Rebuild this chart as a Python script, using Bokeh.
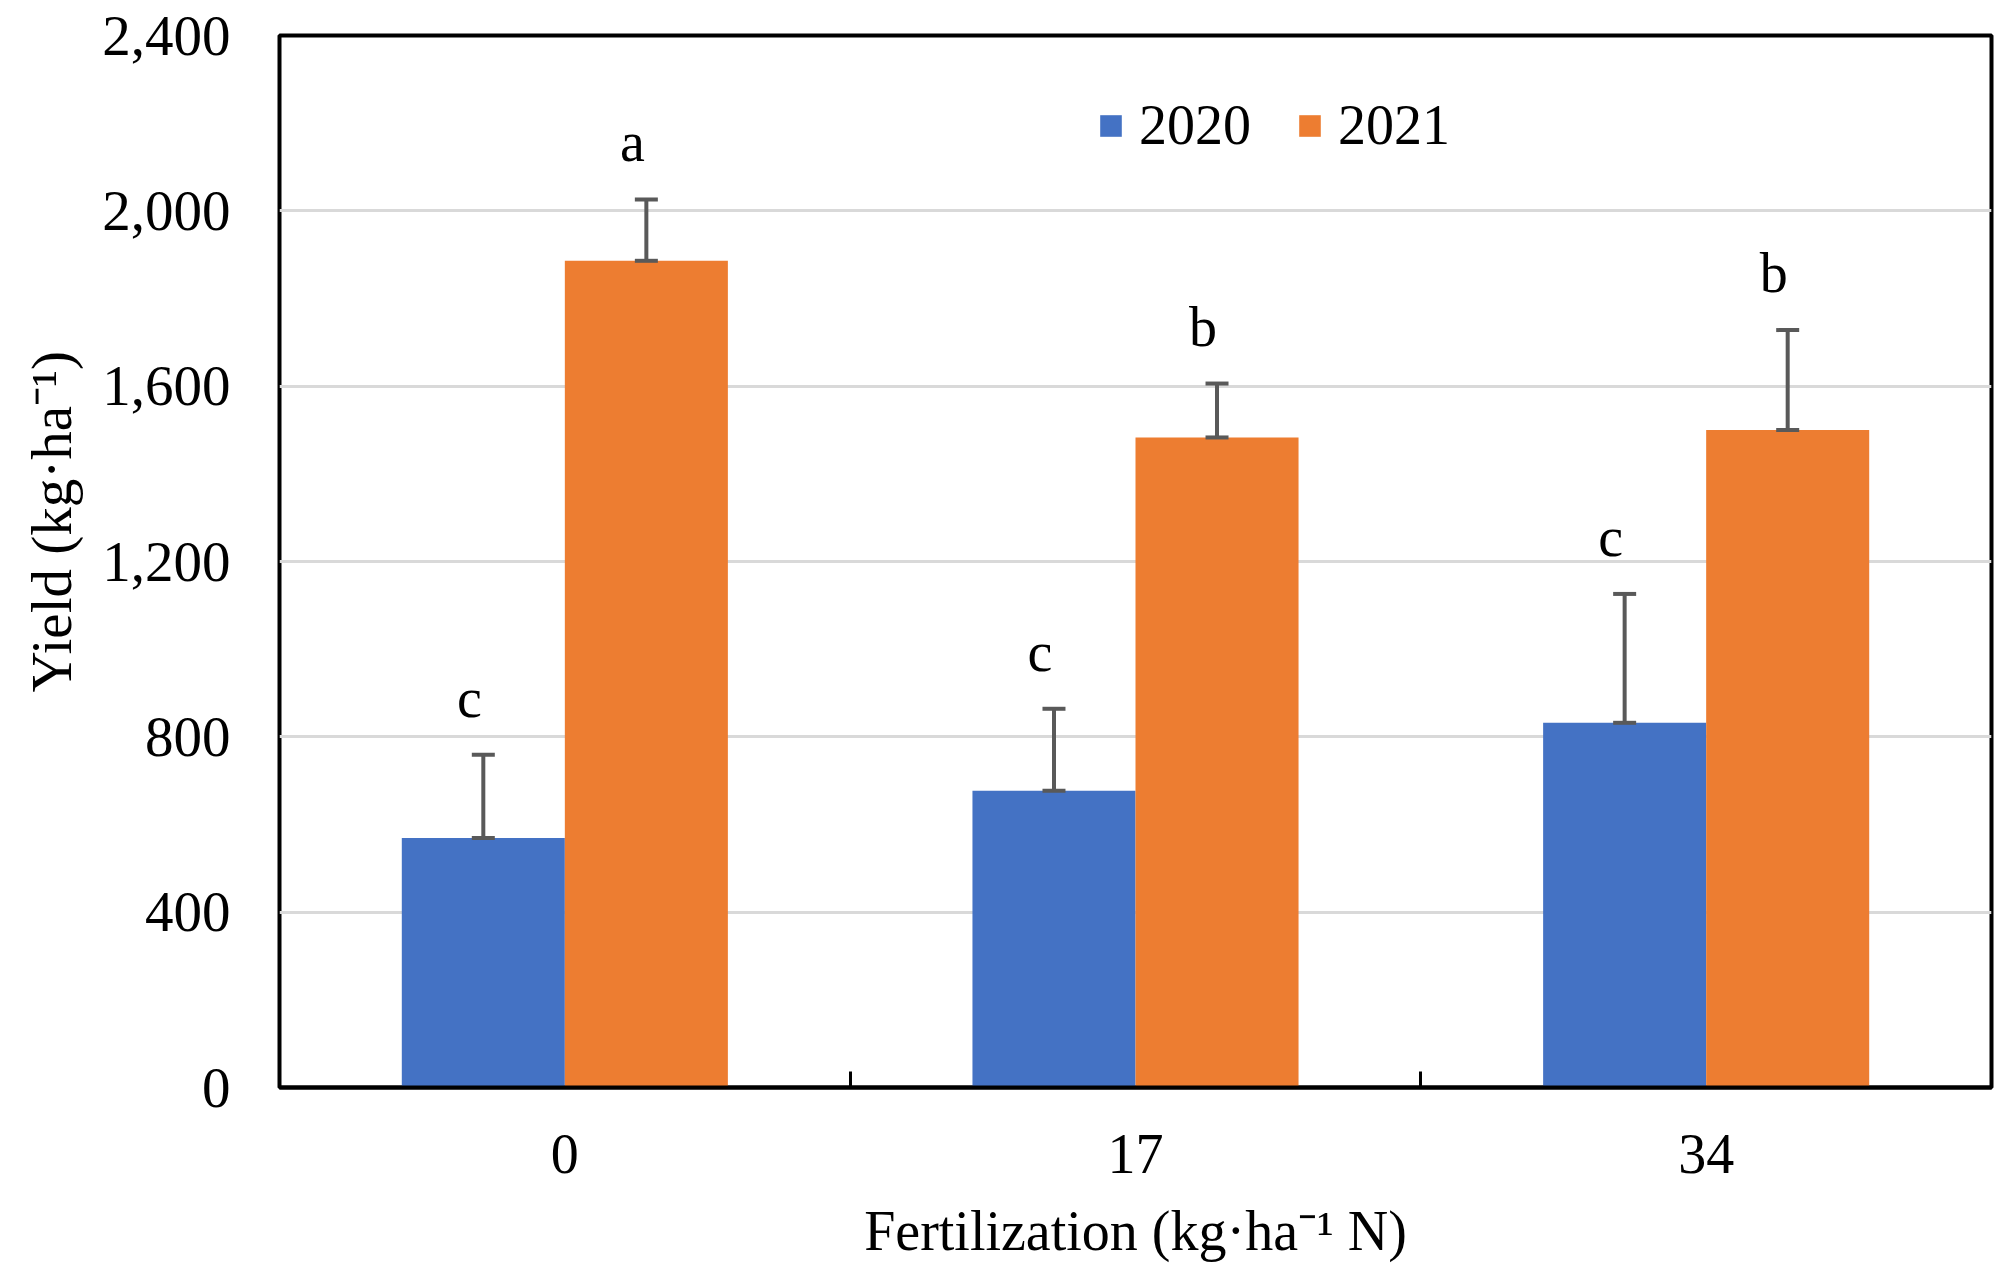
from bokeh.plotting import figure
from bokeh.models import (ColumnDataSource, Range1d, FixedTicker, NumeralTickFormatter,
                          Whisker, TeeHead, Title)
from bokeh.transform import dodge
from bokeh.core.properties import value
from bokeh.embed import file_html
from bokeh.resources import INLINE

# ---- data ----
categories = ["0", "17", "34"]
years = ["2020", "2021"]
yield_2020 = [569, 677, 832]
err_2020 = [190, 187, 294]
letters_2020 = ["c", "c", "c"]
yield_2021 = [1886, 1483, 1500]
err_2021 = [140, 123, 228]
letters_2021 = ["a", "b", "b"]
y_ticks = [0, 400, 800, 1200, 1600, 2000, 2400]

colors = {"2020": "#4472C4", "2021": "#ED7D31"}
FONT = "Liberation Serif"

xpos = [i + 0.5 for i in range(len(categories))]
boundaries = [i for i in range(1, len(categories))]

def make_src(vals, errs, lets):
    return ColumnDataSource(dict(
        x=xpos, v=vals, top=[a + b for a, b in zip(vals, errs)], let=lets))

src20 = make_src(yield_2020, err_2020, letters_2020)
src21 = make_src(yield_2021, err_2021, letters_2021)

W, H = 2008, 1275
LEFT, RIGHT, TOP = 279, 1991, 35
FRAME_H = 1052
p = figure(width=W, height=H, output_backend="svg", toolbar_location=None,
           x_range=Range1d(0, len(categories)), y_range=Range1d(0, 2400),
           min_border_left=LEFT, min_border_right=W - RIGHT, min_border_top=TOP,
           min_border_bottom=H - TOP - FRAME_H)

p.outline_line_color = "black"
p.outline_line_width = 4
p.background_fill_color = "white"
p.border_fill_color = "white"

bw = 0.2857
off = bw / 2

for src, yr, sign in ((src20, "2020", -1), (src21, "2021", 1)):
    xd = dodge("x", sign * off, range=p.x_range)
    p.vbar(x=xd, top="v", width=bw, source=src, fill_color=colors[yr],
           line_color=None, legend_label=yr)
    w = Whisker(source=src, base=xd, lower="v", upper="top",
                line_color="#595959", line_width=4,
                upper_head=TeeHead(size=23, line_color="#595959", line_width=4),
                lower_head=TeeHead(size=23, line_color="#595959", line_width=4))
    w.level = "annotation"
    p.add_layout(w)
    p.text(x=xd, y="top", text="let", source=src, x_offset=-14, y_offset=-57,
           text_align="center", text_baseline="alphabetic",
           text_font=value(FONT), text_font_size="56px", text_color="black")

# grid
p.xgrid.visible = False
p.ygrid.grid_line_color = "#D9D9D9"
p.ygrid.grid_line_width = 3
p.ygrid.ticker = FixedTicker(ticks=y_ticks)

# y axis
ya = p.yaxis[0]
ya.ticker = FixedTicker(ticks=y_ticks)
ya.formatter = NumeralTickFormatter(format="0,0")
ya.axis_line_color = None
ya.major_tick_in = 0
ya.major_tick_out = 0
ya.minor_tick_line_color = None
ya.major_label_standoff = 49
ya.major_label_text_font = FONT
ya.major_label_text_font_size = "57px"
ya.major_label_text_color = "black"

# y title, placed slightly above the frame centre as in the reference
ytitle = Title(text="Yield (kg·ha⁻¹)", align="left", offset=395, standoff=34,
               vertical_align="bottom",
               text_font=FONT, text_font_size="57px", text_font_style="normal",
               text_color="black")
p.add_layout(ytitle, "left")

# x axis
xa = p.xaxis[0]
xa.ticker = FixedTicker(ticks=xpos, minor_ticks=boundaries)
xa.major_label_overrides = {x: c for x, c in zip(xpos, categories)}
xa.axis_line_color = "black"
xa.axis_line_width = 4
xa.major_tick_in = 0
xa.major_tick_out = 0
xa.minor_tick_in = 16
xa.minor_tick_out = 0
xa.minor_tick_line_color = "black"
xa.minor_tick_line_width = 3
xa.major_label_standoff = 47
xa.major_label_text_font = FONT
xa.major_label_text_font_size = "56px"
xa.major_label_text_color = "black"
xa.axis_label = "Fertilization (kg·ha⁻¹ N)"
xa.axis_label_text_font = FONT
xa.axis_label_text_font_size = "56px"
xa.axis_label_text_font_style = "normal"
xa.axis_label_text_color = "black"
xa.axis_label_standoff = 24

# legend
lg = p.legend[0]
lg.orientation = "horizontal"
lg.location = (818, 930)
lg.border_line_color = None
lg.background_fill_alpha = 0
lg.padding = 0
lg.margin = 0
lg.spacing = 45
lg.glyph_width = 27
lg.glyph_height = 27
lg.label_standoff = 15
lg.label_text_font = FONT
lg.label_text_font_size = "56px"
lg.label_text_color = "black"

open("out.html", "w").write(file_html(p, INLINE))
